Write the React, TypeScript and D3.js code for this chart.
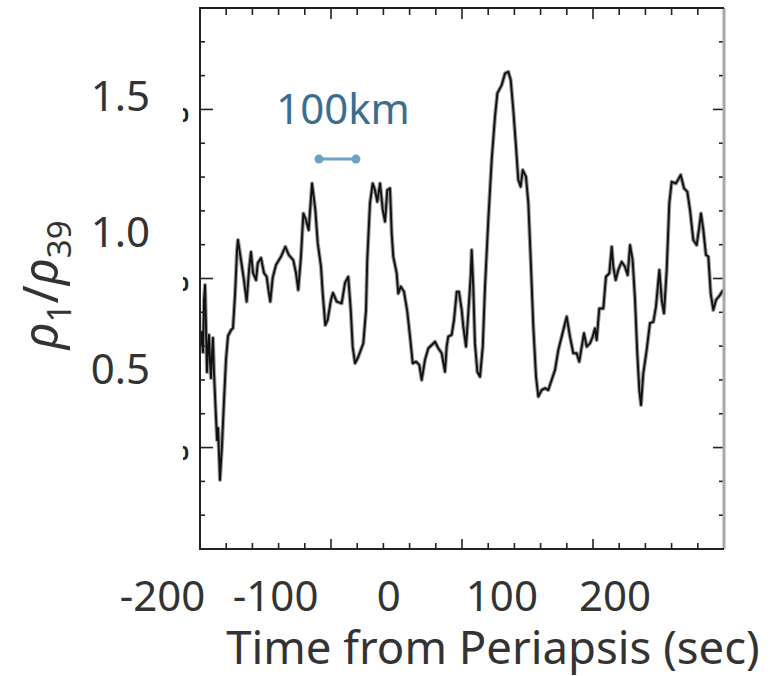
import React from "react";
import * as d3 from "d3";

// Time from periapsis (sec) and density ratio rho1/rho39
const timeSec: number[] = [
  -166.0, -165.1, -164.2, -163.3, -162.4, -161.5, -160.7, -159.8, -158.9, -158.0,
  -157.1, -156.2, -155.4, -154.5, -152.7, -151.8, -150.9, -150.1, -149.2, -147.4,
  -145.6, -143.9, -142.1, -139.4, -137.7, -135.9, -134.1, -133.3, -130.6, -128.0,
  -125.6, -123.5, -121.8, -120.0, -117.3, -115.8, -112.9, -110.3, -107.9, -106.1,
  -104.7, -102.6, -99.7, -95.2, -91.4, -88.4, -84.4, -82.0, -80.0, -77.6,
  -75.5, -73.2, -70.8, -67.8, -64.9, -62.8, -59.9, -58.4, -56.1, -54.0,
  -51.1, -49.3, -46.0, -41.6, -38.7, -35.8, -33.6, -31.9, -29.8, -26.9,
  -22.5, -20.1, -19.0, -16.6, -14.2, -12.2, -10.1, -7.7, -5.3, -3.3,
  -1.3, 1.1, 2.6, 4.0, 7.0, 8.4, 10.6, 13.5, 16.4, 18.8,
  21.2, 24.1, 27.0, 29.1, 32.0, 35.0, 38.0, 40.9, 43.8, 46.8,
  49.7, 51.2, 52.6, 55.6, 57.7, 60.1, 62.1, 64.5, 65.9, 68.3,
  70.3, 72.4, 73.3, 74.7, 76.2, 78.3, 80.7, 83.1, 85.1, 88.0,
  91.0, 93.9, 96.0, 99.8, 102.8, 105.7, 107.8, 110.1, 112.5, 114.5,
  116.6, 118.4, 121.3, 123.4, 125.5, 127.8, 130.2, 132.2, 135.2, 138.1,
  141.0, 144.0, 147.0, 149.9, 152.9, 155.8, 157.3, 160.2, 163.1, 166.1,
  168.4, 170.6, 172.6, 175.0, 177.9, 180.3, 182.3, 183.8, 186.1, 189.7,
  192.0, 195.0, 197.1, 198.5, 200.6, 202.9, 205.9, 208.8, 211.2, 213.3,
  215.6, 217.7, 219.7, 221.5, 223.0, 225.0, 228.0, 230.9, 233.9, 236.2,
  239.2, 241.3, 243.3, 245.7, 248.0, 250.1, 253.9, 258.1, 261.0, 263.9,
  266.3, 269.2, 272.2, 274.5, 276.0, 278.1, 280.4, 282.5, 284.6, 286.9,
  289.3, 292.8, 295.7,
];

const ratio: number[] = [
  0.586, 0.634, 0.560, 0.751, 0.806, 0.641, 0.487, 0.568, 0.623, 0.524,
  0.465, 0.560, 0.612, 0.487, 0.319, 0.238, 0.282, 0.194, 0.092, 0.220,
  0.385, 0.531, 0.619, 0.641, 0.648, 0.769, 0.934, 0.971, 0.897, 0.824,
  0.745, 0.861, 0.927, 0.850, 0.824, 0.886, 0.905, 0.850, 0.836, 0.781,
  0.745, 0.832, 0.879, 0.910, 0.946, 0.916, 0.897, 0.850, 0.788, 0.910,
  1.068, 1.044, 1.007, 1.178, 1.081, 0.960, 0.873, 0.777, 0.659, 0.678,
  0.751, 0.777, 0.745, 0.739, 0.813, 0.836, 0.714, 0.580, 0.519, 0.543,
  0.592, 0.714, 0.897, 1.105, 1.178, 1.154, 1.111, 1.178, 1.081, 1.038,
  1.154, 1.160, 0.995, 0.910, 0.849, 0.775, 0.800, 0.781, 0.708, 0.617,
  0.519, 0.525, 0.513, 0.458, 0.531, 0.574, 0.586, 0.598, 0.574, 0.556,
  0.488, 0.580, 0.617, 0.623, 0.678, 0.781, 0.781, 0.714, 0.653, 0.580,
  0.702, 0.836, 0.934, 0.800, 0.592, 0.488, 0.470, 0.580, 0.800, 1.044,
  1.264, 1.422, 1.508, 1.538, 1.581, 1.587, 1.557, 1.447, 1.312, 1.191,
  1.166, 1.227, 1.203, 1.105, 0.897, 0.653, 0.470, 0.397, 0.421, 0.428,
  0.421, 0.458, 0.495, 0.568, 0.617, 0.666, 0.690, 0.617, 0.556, 0.556,
  0.525, 0.580, 0.629, 0.580, 0.592, 0.617, 0.647, 0.604, 0.720, 0.720,
  0.836, 0.849, 0.946, 0.873, 0.824, 0.861, 0.891, 0.873, 0.842, 0.952,
  0.897, 0.751, 0.556, 0.421, 0.366, 0.482, 0.568, 0.666, 0.671, 0.726,
  0.861, 0.751, 0.702, 0.861, 1.105, 1.184, 1.178, 1.209, 1.160, 1.148,
  1.081, 0.971, 0.952, 1.019, 1.068, 1.007, 0.916, 0.910, 0.775, 0.714,
  0.751, 0.769, 0.788,
];

const xTickLabels: number[] = [-200, -100, 0, 100, 200];
const yTickLabels: number[] = [0.5, 1.0, 1.5];
// original (clipped) frame axis
const frameXTicks: number[] = d3.range(-200, 201, 20);
const frameYTicks: number[] = d3.range(-3, 14).map((i) => i / 10);
const frameYMajor: number[] = [0, 0.5, 1.0];
// 100 km scale bar (time endpoints, level)
const scaleBarTime: number[] = [-61.7, -29.0];
const scaleBarLevel = 1.267;

const W = 782;
const H = 676;
const L = 200, R = 724, T = 8, B = 549;

export default function App() {
  const x = d3.scaleLinear().domain([-200, 200]).range([162.5, 615]);
  const y = d3.scaleLinear().domain([0.5, 1.5]).range([368.5, 95.5]);
  const fx = d3.scaleLinear().domain([-200, 200]).range([L, R]);
  const fy = d3.scaleLinear().domain([-0.3, 1.3]).range([B, T]);

  const pts: [number, number][] = timeSec.map((t, i) => [t, ratio[i]]);
  const line = d3
    .line<[number, number]>()
    .x((d) => x(d[0]))
    .y((d) => y(d[1]));
  const path = line(pts) || "";

  const font = "'Noto Sans', 'Open Sans', sans-serif";
  const txt = "#333";

  const isMajorX = (v: number) => Math.abs(v % 100) < 1e-6;
  const isMajorY = (v: number) => frameYMajor.some((m) => Math.abs(m - v) < 1e-6);

  return (
    <svg
      width={W}
      height={H}
      style={{ position: "absolute", left: 0, top: 0, background: "#fff" }}
      fontFamily={font}
    >
      <defs>
        <clipPath id="plotClip">
          <rect x={L} y={T} width={R - L} height={B - T} />
        </clipPath>
        <clipPath id="remnantClip">
          <rect x={183} y={0} width={7} height={H} />
        </clipPath>
      </defs>
      <rect x={0} y={0} width={W} height={H} fill="#fff" />

      {/* data line */}
      <g clipPath="url(#plotClip)">
        <path d={path} fill="none" stroke="#9a9a9a" strokeWidth={4} strokeLinejoin="round" />
        <path d={path} fill="none" stroke="#111" strokeWidth={1.9} strokeLinejoin="round" />
      </g>

      {/* ticks */}
      <g stroke="#222" strokeWidth={1.6}>
        {frameXTicks.map((v) => {
          const px = fx(v);
          const maj = isMajorX(v);
          return (
            <g key={"xt" + v}>
              <line x1={px} x2={px} y1={T} y2={T + (maj ? 11 : 7)} />
              <line x1={px} x2={px} y1={B} y2={B - (maj ? 10 : 6)} />
            </g>
          );
        })}
        {frameYTicks.map((v) => {
          const py = fy(v);
          const maj = isMajorY(v);
          return (
            <g key={"yt" + v}>
              <line x1={L} x2={L + (maj ? 13 : 5)} y1={py} y2={py} />
              <line x1={R} x2={R - (maj ? 11 : 5)} y1={py} y2={py} />
            </g>
          );
        })}
      </g>

      {/* frame */}
      <line x1={R} x2={R} y1={T} y2={B} stroke="#a8a8a8" strokeWidth={3} />
      <line x1={L} x2={L} y1={T - 1} y2={B + 1} stroke="#222" strokeWidth={2} />
      <line x1={L} x2={R} y1={T} y2={T} stroke="#222" strokeWidth={2} />
      <line x1={L} x2={R} y1={B} y2={B} stroke="#222" strokeWidth={2} />

      {/* clipped remnants of original tick labels */}
      <g clipPath="url(#remnantClip)">
        {frameYMajor.map((v) => (
          <text
            key={"rem" + v}
            x={189}
            y={fy(v) + 5}
            textAnchor="end"
            dominantBaseline="central"
            fontSize={20}
            fontWeight="bold"
            fill="#222"
          >
            0
          </text>
        ))}
      </g>

      {/* y tick labels */}
      {yTickLabels.map((v) => (
        <text
          key={"yl" + v}
          x={150}
          y={y(v) + 15}
          textAnchor="end"
          fontSize={42}
          fill={txt}
        >
          {v.toFixed(1)}
        </text>
      ))}

      {/* x tick labels */}
      {xTickLabels.map((v) => (
        <text key={"xl" + v} x={x(v)} y={611} textAnchor="middle" fontSize={42} fill={txt}>
          {String(v)}
        </text>
      ))}

      {/* x title */}
      <text x={493} y={664} textAnchor="middle" fontSize={45.5} fill={txt}>
        Time from Periapsis (sec)
      </text>

      {/* y title */}
      <text transform="translate(58,285) rotate(-90)" textAnchor="middle" fontSize={49} fill={txt}>
        <tspan fontStyle="italic">ρ</tspan>
        <tspan fontSize={33} dy={13}>1</tspan>
        <tspan dy={-13}>/</tspan>
        <tspan fontStyle="italic">ρ</tspan>
        <tspan fontSize={33} dy={13}>39</tspan>
      </text>

      {/* 100 km scale bar */}
      <text x={343} y={124} textAnchor="middle" fontSize={42} fill="#3c6d8d">
        100km
      </text>
      <line
        x1={x(scaleBarTime[0])}
        x2={x(scaleBarTime[1])}
        y1={y(scaleBarLevel)}
        y2={y(scaleBarLevel)}
        stroke="#6aa3c6"
        strokeWidth={3}
      />
      {scaleBarTime.map((t) => (
        <circle key={"sb" + t} cx={x(t)} cy={y(scaleBarLevel)} r={4.5} fill="#6aa3c6" />
      ))}
    </svg>
  );
}
